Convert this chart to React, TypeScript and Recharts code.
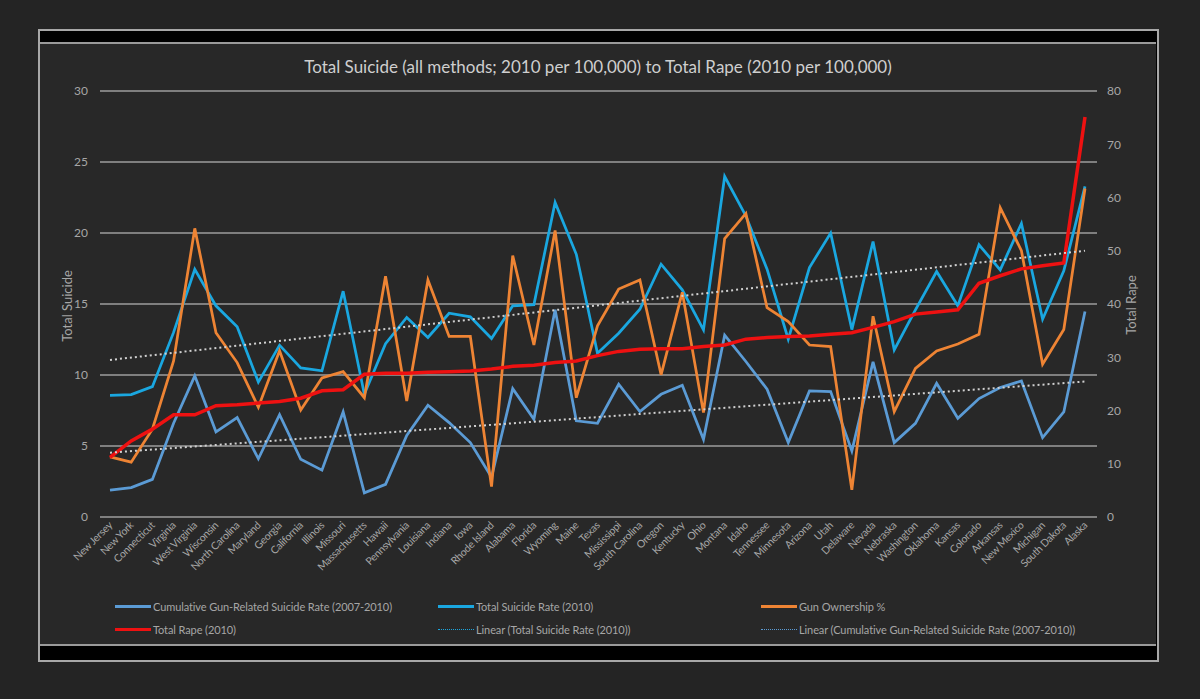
import { LineChart, Line, XAxis, YAxis, CartesianGrid, ReferenceLine } from 'recharts'

// States, ordered by total rape rate
const states = [
  'New Jersey', 'New York', 'Connecticut', 'Virginia', 'West Virginia', 'Wisconsin',
  'North Carolina', 'Maryland', 'Georgia', 'California', 'Illinois', 'Missouri',
  'Massachusetts', 'Hawaii', 'Pennsylvania', 'Louisiana', 'Indiana', 'Iowa',
  'Rhode Island', 'Alabama', 'Florida', 'Wyoming', 'Maine', 'Texas', 'Mississippi',
  'South Carolina', 'Oregon', 'Kentucky', 'Ohio', 'Montana', 'Idaho', 'Tennessee',
  'Minnesota', 'Arizona', 'Utah', 'Delaware', 'Nevada', 'Nebraska', 'Washington',
  'Oklahoma', 'Kansas', 'Colorado', 'Arkansas', 'New Mexico', 'Michigan',
  'South Dakota', 'Alaska',
]

// left axis (per 100,000)
const gunSuicide = [
  1.9, 2.07, 2.65, 6.6, 9.94, 6.0, 7.0, 4.1, 7.2, 4.06, 3.3, 7.4,
  1.7, 2.3, 5.75, 7.87, 6.65, 5.24, 2.8, 9.04, 6.88, 14.6, 6.77, 6.6, 9.35,
  7.42, 8.64, 9.28, 5.47, 12.8, 10.95, 9.0, 5.24, 8.88, 8.83, 4.65, 10.92,
  5.24, 6.6, 9.42, 6.95, 8.34, 9.11, 9.58, 5.59, 7.4, 14.47,
]
const totalSuicide = [
  8.57, 8.62, 9.18, 13.0, 17.45, 14.87, 13.4, 9.5, 12.1, 10.5, 10.3, 15.9,
  8.65, 12.2, 14.05, 12.64, 14.35, 14.1, 12.57, 14.87, 14.96, 22.15, 18.5, 11.53, 12.94,
  14.63, 17.8, 16.0, 13.18, 23.98, 21.2, 17.45, 12.52, 17.57, 19.99, 13.2, 19.4,
  11.77, 14.59, 17.29, 14.87, 19.17, 17.4, 20.67, 13.93, 17.34, 23.28,
]

// right axis
const gunOwnership = [
  11.3, 10.3, 16.5, 29.3, 54.2, 34.6, 29.0, 20.6, 31.2, 20.1, 26.1, 27.3,
  22.4, 45.2, 21.8, 44.5, 33.9, 33.9, 5.7, 49.1, 32.3, 53.8, 22.4, 35.9, 42.8,
  44.5, 26.7, 42.2, 19.6, 52.3, 57.0, 39.3, 36.7, 32.3, 32.0, 5.1, 37.7,
  19.8, 27.9, 31.2, 32.5, 34.3, 58.1, 50.0, 28.7, 35.2, 61.7,
]
const totalRape = [
  11.2, 14.3, 16.5, 19.2, 19.2, 20.9, 21.1, 21.4, 21.7, 22.3, 23.7, 23.9,
  26.8, 27.0, 27.0, 27.2, 27.3, 27.4, 27.8, 28.3, 28.5, 29.0, 29.3, 30.3, 31.1,
  31.5, 31.6, 31.6, 32.0, 32.3, 33.4, 33.7, 33.9, 34.0, 34.3, 34.6, 35.6,
  36.7, 38.1, 38.5, 38.9, 43.9, 45.3, 46.6, 47.2, 47.7, 75.1,
]

// linear trend end values (first state, last state)
const suicideTrend = [11.06, 18.75]
const gunSuicideTrend = [4.53, 9.54]

const leftTicks = [0, 5, 10, 15, 20, 25, 30]
const rightTicks = [0, 10, 20, 30, 40, 50, 60, 70, 80]

const data = states.map((state, i) => ({
  state,
  gunSuicide: gunSuicide[i],
  totalSuicide: totalSuicide[i],
  gunOwnership: gunOwnership[i],
  totalRape: totalRape[i],
}))

const FONT = 'Lato, "Open Sans", sans-serif'
const TEXT = '#a6a6a6'

const legendItems = [
  { label: 'Cumulative Gun-Related Suicide Rate (2007-2010)', color: '#5b9bd5', dotted: false, left: 115, top: 606 },
  { label: 'Total Suicide Rate (2010)', color: '#1aa7e0', dotted: false, left: 438, top: 606 },
  { label: 'Gun Ownership %', color: '#ee8434', dotted: false, left: 761, top: 606 },
  { label: 'Total Rape (2010)', color: '#ee1111', dotted: false, left: 115, top: 629 },
  { label: 'Linear (Total Suicide Rate (2010))', color: '#1aa7e0', dotted: true, left: 438, top: 629 },
  { label: 'Linear (Cumulative Gun-Related Suicide Rate (2007-2010))', color: '#5b9bd5', dotted: true, left: 761, top: 629 },
]

const StateTick = ({ x, y, payload }: any) => (
  <text
    x={x + 3}
    y={y + 5}
    transform={`rotate(-45 ${x + 3} ${y + 5})`}
    textAnchor="end"
    fill={TEXT}
    fontSize={10.5}
    letterSpacing={-0.3}
    fontFamily={FONT}
  >
    {payload.value}
  </text>
)

const RotatedLabel = ({ text, x, y }: { text: string; x: number; y: number }) => (
  <div style={{ position: 'absolute', left: x, top: y, width: 0, height: 0 }}>
    <div
      style={{
        position: 'absolute',
        transform: 'translate(-50%, -50%) rotate(-90deg)',
        whiteSpace: 'nowrap',
        color: TEXT,
        fontSize: 13,
        fontFamily: FONT,
      }}
    >
      {text}
    </div>
  </div>
)

export default function App() {
  return (
    <div style={{ position: 'fixed', left: 0, top: 0, width: 1200, height: 699, background: '#242424', overflow: 'hidden' }}>
      {/* black frame with grey border */}
      <div
        style={{
          position: 'absolute', left: 38, top: 29, width: 1121, height: 633,
          border: '2px solid #a8a8a8', background: '#000', boxSizing: 'border-box',
        }}
      />
      <div
        style={{
          position: 'absolute', left: 40, top: 42, width: 1116, height: 604,
          borderTop: '2px solid #9a9a9a', borderBottom: '2px solid #9a9a9a',
          background: '#282828', boxSizing: 'border-box',
        }}
      />

      <div
        style={{
          position: 'absolute', left: 0, top: 56, width: 1196, textAlign: 'center',
          color: '#cfcfcf', fontSize: 17, fontFamily: FONT,
        }}
      >
        Total Suicide (all methods; 2010 per 100,000) to Total Rape (2010 per 100,000)
      </div>

      <RotatedLabel text="Total Suicide" x={67} y={306} />
      <RotatedLabel text="Total Rape" x={1131} y={305} />

      <div style={{ position: 'absolute', left: 0, top: 0 }}>
        <LineChart
          width={1200}
          height={699}
          data={data}
          margin={{ top: 91, right: 63, bottom: 92, left: 60 }}
        >
          <CartesianGrid yAxisId="left" horizontal vertical={false} stroke="#9c9c9c" strokeWidth={1.3} />
          <XAxis
            dataKey="state"
            interval={0}
            padding={{ left: 10, right: 12 }}
            axisLine={false}
            tickLine={false}
            tickSize={0}
            tickMargin={4}
            height={90}
            tick={<StateTick />}
          />
          <YAxis
            yAxisId="left"
            domain={[0, 30]}
            ticks={leftTicks}
            axisLine={false}
            tickLine={false}
            tickSize={0}
            tickMargin={12}
            width={40}
            tick={{ fill: TEXT, fontSize: 12, fontFamily: FONT }}
          />
          <YAxis
            yAxisId="right"
            orientation="right"
            domain={[0, 80]}
            ticks={rightTicks}
            axisLine={false}
            tickLine={false}
            tickSize={0}
            tickMargin={10}
            width={40}
            tick={{ fill: TEXT, fontSize: 12, fontFamily: FONT, textAnchor: 'start' }}
          />
          <Line yAxisId="left" type="linear" dataKey="gunSuicide" stroke="#5b9bd5" strokeWidth={2.75} dot={false} isAnimationActive={false} />
          <Line yAxisId="left" type="linear" dataKey="totalSuicide" stroke="#1aa7e0" strokeWidth={2.75} dot={false} isAnimationActive={false} />
          <Line yAxisId="right" type="linear" dataKey="gunOwnership" stroke="#ee8434" strokeWidth={2.75} dot={false} isAnimationActive={false} />
          <Line yAxisId="right" type="linear" dataKey="totalRape" stroke="#ee1111" strokeWidth={3.5} dot={false} isAnimationActive={false} />
          <ReferenceLine
            yAxisId="left"
            segment={[
              { x: states[0], y: suicideTrend[0] },
              { x: states[states.length - 1], y: suicideTrend[1] },
            ]}
            stroke="#d0d0d0"
            strokeWidth={2}
            strokeDasharray="2 3"
          />
          <ReferenceLine
            yAxisId="left"
            segment={[
              { x: states[0], y: gunSuicideTrend[0] },
              { x: states[states.length - 1], y: gunSuicideTrend[1] },
            ]}
            stroke="#d0d0d0"
            strokeWidth={2}
            strokeDasharray="2 3"
          />
        </LineChart>
      </div>

      {legendItems.map((item) => (
        <div
          key={item.label}
          style={{
            position: 'absolute', left: item.left, top: item.top - 8, height: 16,
            display: 'flex', alignItems: 'center', fontFamily: FONT, fontSize: 11, color: TEXT,
            whiteSpace: 'nowrap', letterSpacing: -0.1,
          }}
        >
          <div
            style={{
              width: 36, height: 0, marginRight: 2,
              borderTop: item.dotted ? `1.5px dotted ${item.color}` : `3px solid ${item.color}`,
            }}
          />
          {item.label}
        </div>
      ))}
    </div>
  )
}
